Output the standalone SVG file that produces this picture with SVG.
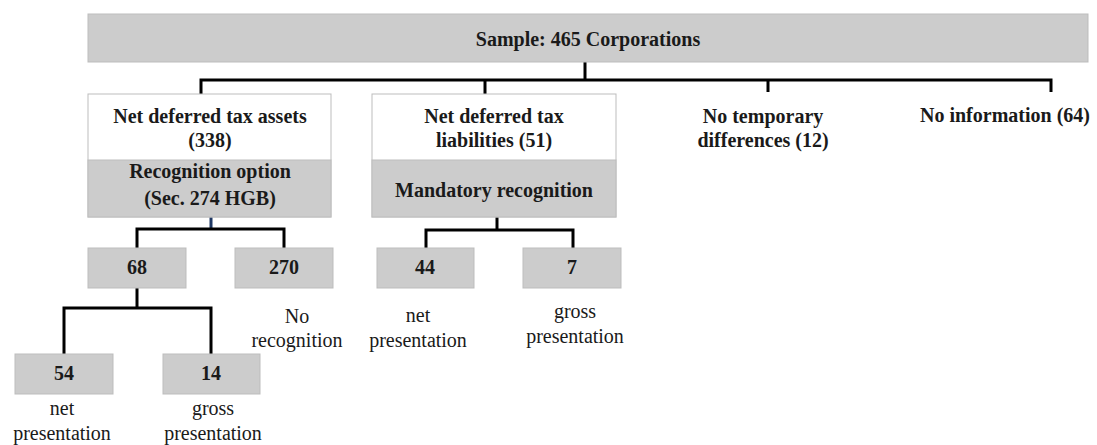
<svg xmlns="http://www.w3.org/2000/svg" width="1097" height="445" viewBox="0 0 1097 445">
<style>
.box{fill:#cccccc;stroke:#bdbdbd;stroke-width:1}
.wbox{fill:#ffffff;stroke:#bdbdbd;stroke-width:1}
.b{font-family:"Liberation Serif","Times New Roman",serif;font-weight:bold;font-size:20px;fill:#1a1a1a;text-anchor:middle}
.r{font-family:"Liberation Serif","Times New Roman",serif;font-size:20px;fill:#1a1a1a;text-anchor:middle}
.c{fill:none;stroke:#000;stroke-width:3;stroke-linejoin:miter}
</style>
<rect width="1097" height="445" fill="#ffffff"/>
<g id="connectors">
<path class="c" d="M585,62 V80"/>
<path class="c" d="M201,94 V80 H1051 V92"/>
<path class="c" d="M485,80 V94"/>
<path class="c" d="M768,80 V92"/>
<path d="M211,217 V229" fill="none" stroke="#1f3864" stroke-width="3"/>
<path class="c" d="M137,248 V229 H284 V248"/>
<path class="c" d="M497,217 V230"/>
<path class="c" d="M426,248 V230 H573 V248"/>
<path class="c" d="M137,288 V308"/>
<path class="c" d="M64,354 V308 H211 V354"/>
</g>
<g id="sample">
<rect class="box" x="88" y="14" width="1000" height="48"/>
<text class="b" x="588" y="46">Sample: 465 Corporations</text>
</g>
<g id="assets">
<rect class="wbox" x="88" y="94" width="243" height="123"/>
<rect class="box" x="88" y="160" width="243" height="57"/>
<text class="b" x="210" y="123">Net deferred tax assets</text>
<text class="b" x="210" y="147">(338)</text>
<text class="b" x="210" y="178">Recognition option</text>
<text class="b" x="210" y="205">(Sec. 274 HGB)</text>
</g>
<g id="liabilities">
<rect class="wbox" x="372" y="94" width="244" height="123"/>
<rect class="box" x="372" y="160" width="244" height="57"/>
<text class="b" x="494" y="123">Net deferred tax</text>
<text class="b" x="494" y="147">liabilities (51)</text>
<text class="b" x="494" y="197">Mandatory recognition</text>
</g>
<g id="notemp">
<text class="b" x="763" y="123">No temporary</text>
<text class="b" x="763" y="147">differences (12)</text>
</g>
<g id="noinfo">
<text class="b" x="1005" y="122">No information (64)</text>
</g>
<g id="n68">
<rect class="box" x="88" y="248" width="98" height="40"/>
<text class="b" x="137" y="274">68</text>
</g>
<g id="n270">
<rect class="box" x="235" y="248" width="98" height="40"/>
<text class="b" x="284" y="274">270</text>
<text class="r" x="297" y="323">No</text>
<text class="r" x="297" y="347">recognition</text>
</g>
<g id="n44">
<rect class="box" x="377" y="248" width="97" height="40"/>
<text class="b" x="425" y="274">44</text>
<text class="r" x="418" y="322">net</text>
<text class="r" x="418" y="347">presentation</text>
</g>
<g id="n7">
<rect class="box" x="523" y="248" width="98" height="40"/>
<text class="b" x="572" y="274">7</text>
<text class="r" x="575" y="318">gross</text>
<text class="r" x="575" y="343">presentation</text>
</g>
<g id="n54">
<rect class="box" x="15" y="354" width="98" height="40"/>
<text class="b" x="64" y="380">54</text>
<text class="r" x="62" y="415">net</text>
<text class="r" x="62" y="440">presentation</text>
</g>
<g id="n14">
<rect class="box" x="163" y="354" width="97" height="40"/>
<text class="b" x="211" y="380">14</text>
<text class="r" x="213" y="415">gross</text>
<text class="r" x="213" y="440">presentation</text>
</g>
</svg>
